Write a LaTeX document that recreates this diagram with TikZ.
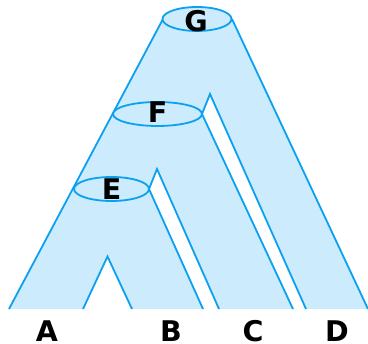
\documentclass[tikz,border=0pt]{standalone}
\usepackage{fontspec}
\setmainfont{DejaVu Sans}
\definecolor{fillblue}{RGB}{204,235,253}
\definecolor{lineblue}{RGB}{12,160,240}
\begin{document}
\begin{tikzpicture}[x=1pt,y=-1pt,
  edge/.style={draw=lineblue,line width=1.8pt,line join=miter},
  cladeell/.style={draw=lineblue,fill=fillblue,line width=1.8pt},
  lbl/.style={font=\fontsize{28.5}{30}\selectfont\bfseries,text=black,inner sep=0pt}]
\useasboundingbox (0,0) rectangle (368,344);
% coordinates
\coordinate (gl) at (163,19);
\coordinate (gr) at (232,19);
\coordinate (al) at (9,309);
\coordinate (dr) at (368,309);
\coordinate (va) at (83,309);
\coordinate (vt) at (107.5,256.5);
\coordinate (vb) at (132,309);
\coordinate (er) at (149,189);
\coordinate (et) at (157,169);
\coordinate (eb1) at (203,309);
\coordinate (eb2) at (219,309);
\coordinate (fr) at (202,114);
\coordinate (ft) at (210,94);
\coordinate (fb1) at (293,309);
\coordinate (fb2) at (306,309);
% filled body
\fill[fillblue] (gl) -- (al) -- (va) -- (vt) -- (vb) -- (eb1) -- (er) -- (et) -- (eb2)
  -- (fb1) -- (fr) -- (ft) -- (fb2) -- (dr) -- (gr) -- cycle;
% outer edges
\draw[edge] (gl) -- (al);
\draw[edge] (gr) -- (dr);
% gaps
\draw[edge] (va) -- (vt) -- (vb);
\draw[edge] (eb1) -- (er) -- (et) -- (eb2);
\draw[edge] (fb1) -- (fr) -- (ft) -- (fb2);
% ellipses
\draw[cladeell] (197,19) ellipse [x radius=34.5,y radius=12];
\draw[cladeell] (157.5,114) ellipse [x radius=44.5,y radius=12];
\draw[cladeell] (111.5,189) ellipse [x radius=37.5,y radius=12];
% labels
\node[lbl] (G) at (196,21) {G};
\node[lbl] (F) at (157.5,112.5) {F};
\node[lbl] (E) at (111.5,189.5) {E};
\node[lbl] (A) at (47,331) {A};
\node[lbl] (B) at (171,331) {B};
\node[lbl] (C) at (253,331) {C};
\node[lbl] (D) at (337,331) {D};
\end{tikzpicture}
\end{document}
